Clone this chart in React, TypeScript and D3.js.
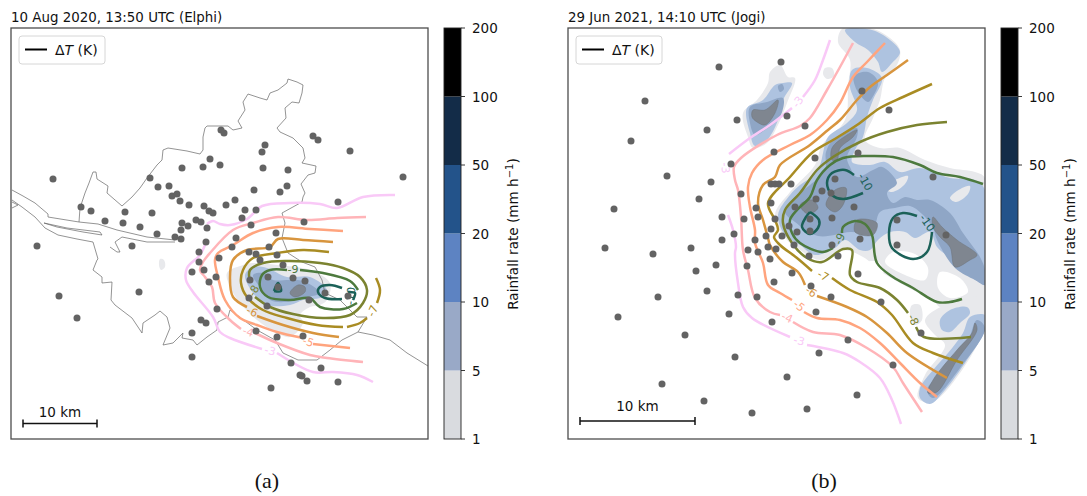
import React from "react";
import * as d3 from "d3";

type P = [number, number];

const W = 1087, H = 496;
const panelTop = 28, panelBottom = 439;
const panelXA: P = [11, 428];
const panelXB: P = [568, 985];
const levels = [1, 5, 10, 20, 50, 100, 200];
const levelColors = ["#d9dbdf", "#99a9c7", "#5d83c2", "#23538a", "#132c48", "#000000"];
const contourLevels = [-3, -4, -5, -6, -7, -8, -9, -10];
const contourColors = ["#f9c9f7", "#ffb4b8", "#ffa47e", "#d8953e", "#a98c23", "#7b8330", "#4d7a3e", "#1b6158"];
const rainFill = ["#e8e9ec", "#aec3e0", "#8fa6c6", "#7f8690"];

const titleA = "10 Aug 2020, 13:50 UTC (Elphi)";
const titleB = "29 Jun 2021, 14:10 UTC (Jogi)";

// Station locations (panel coordinates)
const stationsA: P[] = [[53,179],[37,246],[81,207],[91,211],[105,221],[125,212],[123,223],[140,227],[152,213],[157,234],[132,246],[150,178],[158,187],[169,186],[172,196],[177,194],[180,201],[189,205],[182,168],[203,167],[210,159],[220,165],[221,130],[224,133],[204,206],[209,211],[213,213],[182,223],[188,226],[181,230],[196,220],[201,222],[207,228],[175,237],[181,239],[206,242],[199,252],[59,296],[77,318],[139,292],[192,272],[204,270],[199,262],[209,282],[216,277],[217,309],[201,320],[206,323],[192,333],[192,357],[265,145],[262,152],[263,168],[288,170],[313,136],[318,140],[350,151],[403,177],[254,190],[287,186],[280,192],[338,202],[235,200],[226,205],[245,210],[256,210],[242,218],[251,225],[304,222],[276,233],[236,238],[232,247],[249,252],[269,247],[256,254],[260,260],[277,255],[219,258],[283,265],[250,280],[268,277],[293,278],[305,281],[249,298],[267,306],[309,300],[325,293],[348,296],[278,287],[256,331],[277,337],[303,336],[291,363],[321,368],[300,375],[302,376],[307,381],[338,382],[271,388]];
const stationsB: P[] = [[719,67],[781,62],[645,101],[631,141],[737,120],[707,130],[667,176],[711,182],[699,199],[614,209],[605,248],[691,248],[722,217],[722,240],[731,164],[741,194],[744,219],[734,234],[774,152],[771,184],[775,184],[779,184],[791,184],[756,208],[758,217],[755,240],[771,229],[653,254],[696,271],[716,265],[748,250],[758,252],[766,236],[768,247],[776,249],[782,236],[770,259],[747,266],[792,273],[774,282],[707,291],[658,297],[618,317],[738,295],[757,297],[729,314],[772,322],[685,335],[735,357],[787,377],[662,384],[704,401],[752,413],[789,226],[797,232],[794,245],[809,256],[832,245],[838,256],[860,239],[858,274],[811,286],[831,297],[881,302],[816,312],[921,333],[848,340],[819,353],[893,365],[897,245],[946,235],[857,395],[807,409],[787,116],[805,126],[862,91],[889,110],[815,158],[858,153],[933,177],[835,179],[822,191],[831,193],[816,199],[771,203],[795,207],[854,207],[810,219],[832,218],[775,219],[810,231],[897,220]];

// Administrative boundary and river banks (panel a)
const boundaryA: P[] = [[79,222],[80,208],[85,193],[89,183],[93,172],[96,172],[97,179],[108,186],[107,193],[122,206],[132,197],[140,188],[147,178],[157,165],[162,160],[163,150],[168,148],[187,151],[200,154],[203,150],[203,137],[205,128],[207,126],[228,126],[233,130],[242,128],[238,121],[245,110],[243,102],[248,94],[260,98],[267,100],[270,93],[278,90],[287,83],[288,79],[297,82],[303,85],[302,93],[299,103],[292,102],[285,108],[286,118],[277,128],[280,132],[293,138],[303,148],[305,158],[302,163],[316,166],[315,173],[308,175],[301,184],[305,193],[303,197],[302,202],[282,213],[285,223],[282,238],[288,253],[302,262],[315,267],[322,280],[325,293],[340,300],[357,317],[367,317],[358,332],[342,340],[330,350],[317,360],[298,360],[283,353],[275,340],[257,330],[230,310],[228,317],[218,322],[217,330],[207,337],[197,345],[193,340],[182,338],[183,333],[173,343],[163,345],[170,328],[167,317],[160,311],[155,315],[143,323],[142,333],[132,318],[115,305],[111,300],[112,282],[102,283],[102,277],[93,270],[97,260],[98,259],[93,242]];
const riverNorthA: P[] = [[12,190],[23,196],[35,203],[48,214],[48,217],[79,222],[98,224],[117,230],[147,237],[175,240]];
const riverSouthA: P[] = [[12,200],[22,207],[35,217],[45,228],[58,235],[77,239],[93,242]];
const riverIslandA: P[] = [[44,223],[67,228],[100,232],[102,235],[83,232],[57,227],[44,223]];
const harbourA: P[] = [[175,242],[147,242],[122,237],[115,242],[120,252],[117,252],[110,247]];
const riverWestA: P[] = [[12,202],[18,205],[12,208]];
const exitA: P[] = [[358,332],[373,335],[390,340],[407,353],[428,366]];

// Rainfall regions (panel a), by band
const rainA: { band: number; pts: P[] }[] = [
  { band: 0, pts: [[227,273],[243,265],[253,263],[277,265],[310,270],[330,283],[327,300],[320,305],[310,307],[300,315],[303,323],[290,337],[277,333],[257,320],[240,303],[230,287]] },
  { band: 0, pts: [[160,259],[164,260],[165,267],[161,270],[159,265]] },
  { band: 1, pts: [[245,275],[253,267],[267,268],[287,277],[310,277],[327,290],[323,297],[303,300],[290,305],[267,305],[253,293]] },
  { band: 2, pts: [[253,275],[263,273],[273,280],[290,280],[303,281],[320,293],[300,298],[285,302],[270,300],[262,290]] },
  { band: 3, pts: [[290,293],[298,285],[305,287],[305,292],[295,297]] },
];

// Rainfall regions (panel b), by band; band -1 is a gap inside the rain field
const rainB: { band: number; pts: P[] }[] = [
  { band: 0, pts: [[770,72],[780,65],[788,77],[795,78],[787,103],[777,127],[767,143],[753,148],[748,137],[743,113],[757,100],[768,83]] },
  { band: 0, pts: [[825,68],[832,68],[834,76],[827,79],[823,74]] },
  { band: 0, pts: [[843,28],[870,28],[890,38],[900,50],[897,65],[885,78],[880,100],[873,118],[865,140],[880,148],[900,148],[925,160],[950,168],[975,172],[985,178],[985,300],[960,307],[940,307],[933,300],[913,290],[900,283],[883,273],[863,257],[843,250],[820,260],[800,250],[787,240],[775,215],[790,192],[815,165],[822,145],[845,120],[848,85],[850,60],[838,42]] },
  { band: 0, pts: [[925,320],[945,305],[985,298],[985,328],[933,402],[918,398],[925,375],[945,345],[935,335]] },
  { band: 0, pts: [[912,305],[920,305],[922,320],[915,325],[910,315]] },
  { band: -1, pts: [[893,252],[915,254],[928,268],[925,280],[905,275],[885,262]] },
  { band: -1, pts: [[940,272],[960,278],[968,292],[950,298],[938,288]] },
  { band: -1, pts: [[868,262],[878,262],[884,272],[876,272]] },
  { band: 1, pts: [[775,85],[783,83],[792,83],[783,100],[778,120],[767,140],[755,146],[750,133],[747,108],[763,100]] },
  { band: 1, pts: [[845,30],[872,30],[890,40],[900,52],[892,63],[882,72],[878,62],[868,50],[855,42]] },
  { band: 1, pts: [[852,70],[867,68],[882,78],[873,100],[867,117],[863,137],[855,150],[852,162],[870,165],[885,162],[900,172],[920,168],[950,178],[975,180],[985,190],[985,283],[965,272],[950,258],[937,247],[930,232],[915,238],[905,232],[890,232],[878,240],[870,250],[860,250],[845,240],[835,248],[815,255],[800,245],[785,235],[778,215],[790,195],[800,185],[810,178],[820,165],[823,153],[828,137],[847,123],[857,110],[850,87]] },
  { band: 1, pts: [[985,315],[970,317],[963,333],[948,353],[933,370],[920,388],[920,398],[930,404],[945,390],[967,360],[985,330]] },
  { band: 1, pts: [[940,320],[950,310],[967,307],[970,313],[960,323],[950,332],[942,330]] },
  { band: 0, pts: [[884,188],[895,180],[908,176],[905,184],[892,192]] },
  { band: 0, pts: [[950,198],[962,188],[970,186],[968,194],[956,202]] },
  { band: 2, pts: [[750,107],[767,102],[783,98],[780,117],[765,130],[755,135],[750,123]] },
  { band: 2, pts: [[778,86],[782,84],[784,89],[780,92]] },
  { band: 2, pts: [[854,76],[868,72],[878,82],[872,98],[868,102],[860,95],[855,86]] },
  { band: 2, pts: [[826,152],[833,140],[857,128],[857,137],[847,157],[850,167],[857,177],[873,170],[882,167],[897,183],[887,193],[893,203],[905,197],[917,200],[930,200],[950,213],[963,233],[980,257],[985,270],[985,285],[975,280],[955,268],[937,240],[933,228],[922,214],[910,206],[895,208],[880,212],[872,232],[850,232],[818,236],[795,222],[785,212],[797,195],[810,185],[825,170]] },
  { band: 2, pts: [[977,320],[967,343],[947,367],[927,390],[933,398],[960,368],[985,328]] },
  { band: 3, pts: [[753,110],[765,110],[778,100],[775,113],[765,125],[757,122],[752,117]] },
  { band: 3, pts: [[832,148],[847,135],[857,130],[853,137],[840,148],[837,160],[832,160]] },
  { band: 3, pts: [[800,205],[812,200],[818,208],[808,214]] },
  { band: 3, pts: [[835,190],[846,188],[843,205],[835,212],[826,205]] },
  { band: 3, pts: [[857,220],[877,223],[873,235],[855,232]] },
  { band: 3, pts: [[933,217],[942,227],[957,240],[977,255],[970,260],[955,267],[950,247],[940,237],[933,227]] },
  { band: 3, pts: [[975,323],[977,330],[957,360],[937,392],[928,393],[933,380],[957,350],[972,333]] },
];

// Temperature-deviation contours (level + pieces of line)
const contoursA: { level: number; pieces: P[][] }[] = [
  { level: -3, pieces: [[[395,195],[363,197],[337,208],[320,204],[290,203],[262,206],[247,219],[230,225],[220,224],[213,221],[207,224]],[[205,245],[200,255],[187,268],[186,280],[193,292],[213,317],[220,332],[230,338],[262,349]],[[277,353],[313,372],[333,372],[357,375],[373,382]]] },
  { level: -4, pieces: [[[366,217],[337,218],[307,220],[278,217],[253,223],[233,230],[210,253],[203,262],[200,270],[205,277],[212,287],[215,303],[230,320],[241,329]],[[255,333],[277,343],[310,355],[327,358],[363,362]]] },
  { level: -5, pieces: [[[343,231],[310,229],[278,227],[253,233],[233,245],[218,253],[215,260],[218,277],[225,300],[240,318],[257,325],[277,332],[303,338]],[[313,344],[350,348]]] },
  { level: -6, pieces: [[[333,242],[303,240],[278,239],[270,247],[247,250],[233,260],[230,277],[233,297],[247,307]],[[257,316],[283,325],[313,333],[339,337]]] },
  { level: -7, pieces: [[[329,252],[303,250],[277,253],[253,258],[243,270],[241,283],[247,297],[263,310],[287,318],[317,325],[343,327]],[[347,327],[360,323],[367,318]],[[377,303],[380,290],[376,278]]] },
  { level: -8, pieces: [[[255,297],[270,307],[293,314],[323,318],[350,315],[363,303],[367,290],[360,277],[343,268],[320,263],[287,261],[263,263],[250,270],[250,283]]] },
  { level: -9, pieces: [[[287,270],[270,270],[262,275],[260,287],[268,297],[290,300],[310,298],[320,307],[343,309],[357,303]],[[358,290],[350,281],[323,273],[300,270]]] },
  { level: -10, pieces: [[[274,291],[278,283],[281,291],[274,291]],[[342,288],[330,285],[320,287],[318,292],[325,298],[342,299]],[[348,292],[355,293],[353,300]]] },
];
const contoursB: { level: number; pieces: P[][] }[] = [
  { level: -3, pieces: [[[830,40],[823,60],[815,80],[803,97]],[[792,108],[770,125],[750,138],[729,154]],[[728,215],[733,230],[736,247],[735,253],[738,283],[743,307],[752,318],[790,337]],[[807,345],[843,353],[860,362],[880,378],[892,400],[901,424]]] },
  { level: -4, pieces: [[[853,43],[840,67],[827,90],[810,118],[800,126],[777,135],[741,158],[734,167],[735,180],[738,190],[741,217],[743,250],[748,270],[755,298],[770,312],[780,315]],[[793,322],[813,332],[840,335],[867,348],[893,367],[903,383],[922,412]]] },
  { level: -5, pieces: [[[885,43],[867,62],[853,77],[840,103],[827,120],[810,135],[790,145],[763,160],[752,173],[748,187],[750,207],[755,230],[755,243],[763,263],[768,285],[780,293],[792,300]],[[804,312],[817,318],[840,320],[860,328],[880,343],[900,363],[920,383],[937,397]]] },
  { level: -6, pieces: [[[908,60],[887,75],[870,87],[857,100],[840,120],[828,130],[810,145],[780,165],[775,177],[763,185],[758,203],[763,220],[768,238],[770,245],[783,262],[798,272],[805,285]],[[817,296],[847,307],[867,317],[887,333],[907,353],[947,378]]] },
  { level: -7, pieces: [[[932,84],[903,97],[880,108],[857,125],[833,140],[813,152],[790,177],[768,203],[775,220],[778,230],[774,237],[780,245],[797,258],[812,271]],[[832,278],[850,290],[877,302],[892,315],[913,343],[933,353],[963,363]]] },
  { level: -8, pieces: [[[947,122],[917,125],[887,132],[860,142],[833,157],[817,170],[800,193],[785,210],[783,223],[792,243],[807,258],[822,262],[843,249],[852,250],[850,275],[857,282],[880,288],[897,300],[908,313]],[[916,327],[924,337],[971,337]]] },
  { level: -9, pieces: [[[983,184],[960,177],[937,173],[920,165],[893,157],[867,156],[843,158],[830,165],[817,180],[810,197],[797,210],[790,220],[792,233],[800,243],[822,252],[833,248]],[[842,233],[843,227],[855,221],[865,224],[872,235],[877,263],[893,277],[913,288],[937,302],[950,302],[962,299]]] },
  { level: -10, pieces: [[[854,175],[845,170],[832,173],[827,183],[832,195],[843,199],[863,193]],[[810,212],[819,220],[818,228],[810,234],[802,227],[806,217],[810,212]],[[917,216],[903,213],[893,218],[889,233],[892,248],[913,259],[927,252],[932,232]]] },
];
const labelsA: { level: number; at: P; angle: number }[] = [
  { level: -3, at: [270,351], angle: 15 },
  { level: -4, at: [248,332], angle: 20 },
  { level: -5, at: [308,342], angle: 20 },
  { level: -6, at: [252,312], angle: 25 },
  { level: -7, at: [373,311], angle: -65 },
  { level: -8, at: [254,291], angle: -60 },
  { level: -9, at: [293,269], angle: 0 },
  { level: -10, at: [351,296], angle: -85 },
];
const labelsB: { level: number; at: P; angle: number }[] = [
  { level: -3, at: [798,102], angle: -55 },
  { level: -3, at: [725,168], angle: 85 },
  { level: -3, at: [799,341], angle: 15 },
  { level: -4, at: [787,318], angle: 25 },
  { level: -5, at: [799,306], angle: 40 },
  { level: -6, at: [811,292], angle: 35 },
  { level: -7, at: [823,276], angle: 30 },
  { level: -8, at: [913,320], angle: 65 },
  { level: -9, at: [840,239], angle: -65 },
  { level: -10, at: [865,182], angle: 60 },
  { level: -10, at: [927,223], angle: 55 },
];

const colorOf = d3.scaleOrdinal<number, string>().domain(contourLevels).range(contourColors);
const cLine = d3.line<P>().curve(d3.curveCatmullRom.alpha(0.5));
const rainArea = d3.line<P>().curve(d3.curveCatmullRomClosed.alpha(0.5));
const baseLine = d3.line<P>();
const font = "'DejaVu Sans', sans-serif";

function Panel({ id, px, title, stations, rain, contours, labels, barKm, barPx, barY, barTextY, children }: any) {
  const x = d3.scaleLinear().domain(px).range(px);
  const y = d3.scaleLinear().domain([panelTop, panelBottom]).range([panelTop, panelBottom]);
  const project = (p: P): P => [x(p[0]), y(p[1])];
  const [x0, x1] = px;
  const cbX0 = x1 + 16, cbW = 17;
  const cbY = d3.scalePoint<number>().domain(levels).range([panelBottom, panelTop]);
  const barX0 = x0 + 12;
  return (
    <g>
      <clipPath id={id}><rect x={x0} y={panelTop} width={x1 - x0} height={panelBottom - panelTop} /></clipPath>
      <text x={x0} y={22} fontFamily={font} fontSize={13.4} fill="#111">{title}</text>
      <g clipPath={`url(#${id})`}>
        {rain.map((r: any, i: number) => (
          <path key={i} d={rainArea(r.pts.map(project)) || ""} fill={r.band < 0 ? "#fff" : rainFill[r.band]} stroke={r.band === 3 ? "#6c7379" : "none"} strokeWidth={0.5} />
        ))}
        {children && children(project)}
        {contours.map((c: any) =>
          c.pieces.map((p: P[], i: number) => (
            <path key={c.level + "-" + i} d={cLine(p.map(project)) || ""} fill="none" stroke={colorOf(c.level)} strokeWidth={2.5} strokeLinecap="butt" strokeLinejoin="round" />
          ))
        )}
        {labels.map((l: any, i: number) => {
          const [lx, ly] = project(l.at);
          return (
            <text key={i} x={lx} y={ly} textAnchor="middle" dominantBaseline="central" fontFamily={font} fontSize={11} fill={colorOf(l.level)} transform={`rotate(${l.angle} ${lx} ${ly})`}>
              {String(l.level)}
            </text>
          );
        })}
        {stations.map((s: P, i: number) => {
          const [sx, sy] = project(s);
          return <circle key={i} cx={sx} cy={sy} r={3.5} fill="#636363" />;
        })}
      </g>
      <rect x={x0} y={panelTop} width={x1 - x0} height={panelBottom - panelTop} fill="none" stroke="#4d4d4d" strokeWidth={1.3} />
      <rect x={x0 + 8} y={36} width={86} height={28} rx={3} fill="#fff" stroke="#d6d6d6" strokeWidth={1} />
      <line x1={x0 + 14} x2={x0 + 36} y1={49.5} y2={49.5} stroke="#000" strokeWidth={2} />
      <text x={x0 + 44} y={55} fontFamily={font} fontSize={14} fill="#111">
        Δ<tspan fontStyle="italic">T</tspan> (K)
      </text>
      <line x1={barX0} x2={barX0 + barPx} y1={barY} y2={barY} stroke="#111" strokeWidth={1.5} />
      <line x1={barX0} x2={barX0} y1={barY - 4} y2={barY + 4} stroke="#111" strokeWidth={1.5} />
      <line x1={barX0 + barPx} x2={barX0 + barPx} y1={barY - 4} y2={barY + 4} stroke="#111" strokeWidth={1.5} />
      <text x={barX0 + barPx / 2} y={barTextY} textAnchor="middle" fontFamily={font} fontSize={13.5} fill="#111">{barKm}</text>
      {levelColors.map((c, i) => (
        <rect key={i} x={cbX0} y={cbY(levels[i + 1])!} width={cbW} height={cbY(levels[i])! - cbY(levels[i + 1])!} fill={c} />
      ))}
      <rect x={cbX0} y={panelTop} width={cbW} height={panelBottom - panelTop} fill="none" stroke="#222" strokeWidth={0.9} />
      {levels.map((l) => (
        <g key={l}>
          <line x1={cbX0 + cbW} x2={cbX0 + cbW + 4} y1={cbY(l)} y2={cbY(l)} stroke="#222" strokeWidth={0.9} />
          <text x={cbX0 + cbW + 11} y={cbY(l)! + 5} fontFamily={font} fontSize={13.5} fill="#111">{l}</text>
        </g>
      ))}
      <text transform={`translate(${x1 + 90},234) rotate(-90)`} textAnchor="middle" fontFamily={font} fontSize={13.6} fill="#111">
        Rainfall rate (mm h<tspan dy={-5} fontSize={10}>−1</tspan><tspan dy={5}>)</tspan>
      </text>
    </g>
  );
}

export default function App() {
  return (
    <svg width={W} height={H} style={{ position: "absolute", left: 0, top: 0, background: "#fff" }}>
      <Panel id="clipA" px={panelXA} title={titleA} stations={stationsA} rain={rainA} contours={contoursA} labels={labelsA} barKm="10 km" barPx={74} barY={423.5} barTextY={417}>
        {(project: (p: P) => P) => (
          <g fill="none" stroke="#666" strokeWidth={0.7}>
            {[boundaryA, riverNorthA, riverSouthA, riverIslandA, harbourA, riverWestA, exitA].map((b, i) => (
              <path key={i} d={baseLine(b.map(project)) || ""} />
            ))}
          </g>
        )}
      </Panel>
      <Panel id="clipB" px={panelXB} title={titleB} stations={stationsB} rain={rainB} contours={contoursB} labels={labelsB} barKm="10 km" barPx={115} barY={421} barTextY={411} />
      <text x={267} y={488} textAnchor="middle" fontFamily="'Liberation Serif', serif" fontSize={22} fill="#111">(a)</text>
      <text x={824} y={488} textAnchor="middle" fontFamily="'Liberation Serif', serif" fontSize={22} fill="#111">(b)</text>
    </svg>
  );
}
